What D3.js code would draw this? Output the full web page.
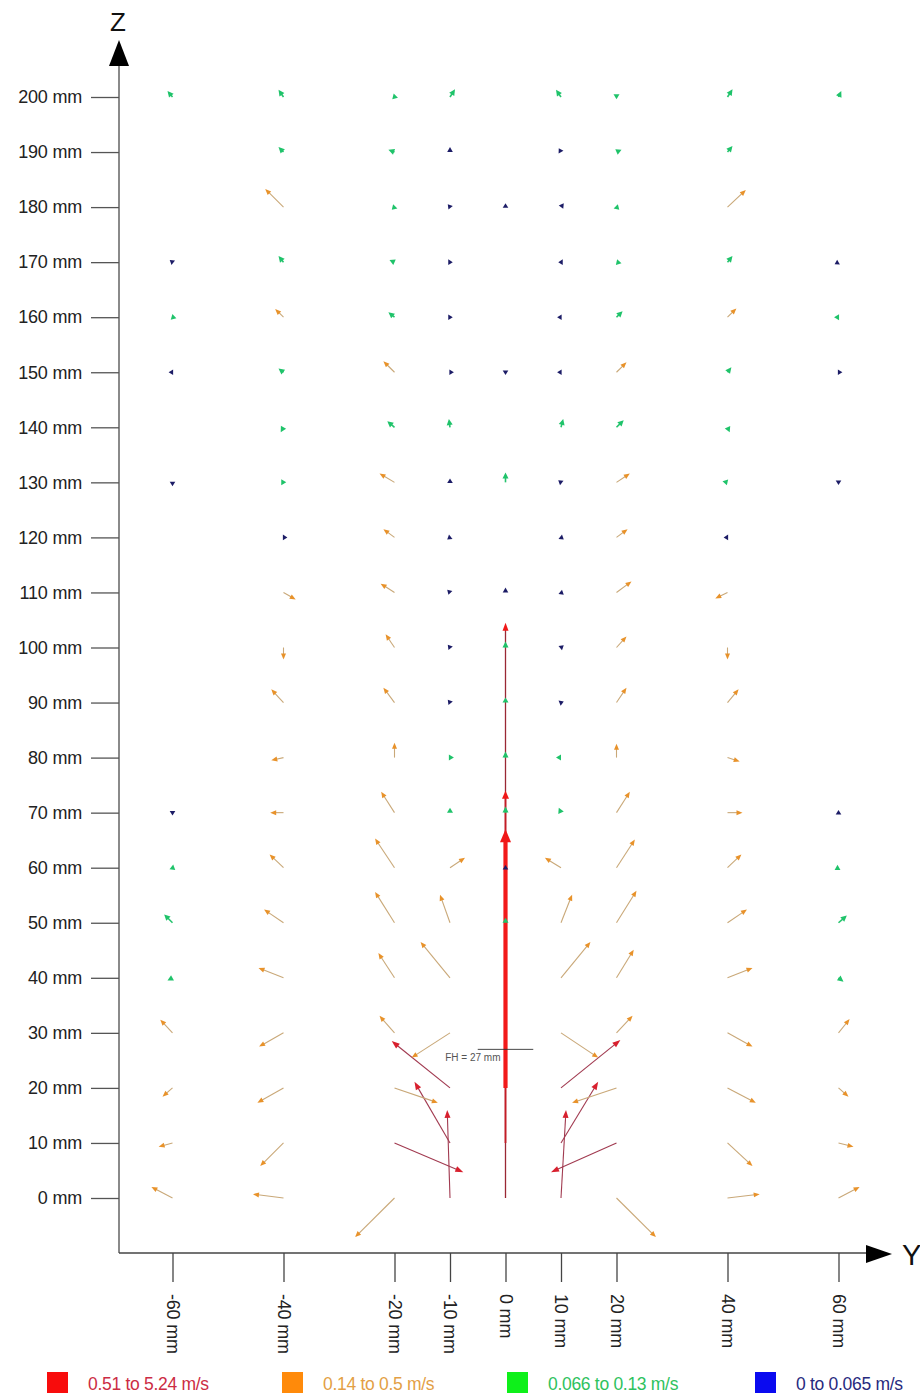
<!DOCTYPE html>
<html><head><meta charset="utf-8">
<script src="https://cdn.jsdelivr.net/npm/d3@7"></script>
<style>
body{margin:0;background:#fff}
svg{display:block}
text{font-family:"Liberation Sans",Arial,sans-serif}
</style>
</head><body>
<svg id="chart" width="920" height="1395"></svg>
<script>
// ---------- data (all in mm: [Y, Z, dY, dZ]) ----------
const yTicks = [-60, -40, -20, -10, 0, 10, 20, 40, 60];
const zTicks = d3.range(0, 201, 10);
const legendLabels = ["0.51 to 5.24 m/s", "0.14 to 0.5 m/s", "0.066 to 0.13 m/s", "0 to 0.065 m/s"];
const fhLabel = "FH = 27 mm";
const fhZ = 27;

const jetArrows = [
  [0, 0, 0, 104.5],
  [0, 10, 0, 64],
  [0, 20, 0, 47]
];
const redArrows = [
  [-10, 20, -10.5, 8.5], [-10, 10, -6.4, 11.1], [-10, 0, -0.5, 16], [-20, 10, 12.4, -5.3],
  [10, 20, 10.7, 8.7], [10, 10, 6.7, 11.1], [10, 0, 0.9, 16], [20, 10, -11.8, -5.3]
];
const orangeArrows = [
  [-60, 30, -2.2, 2.4], [-60, 20, -1.8, -1.6], [-60, 10, -2.5, -0.7], [-60, 0, -3.8, 2.0],
  [-40, 180, -3.3, 3.3], [-40, 160, -1.5, 1.5], [-40, 110, 2.2, -1.3], [-40, 100, 0, -2.2],
  [-40, 90, -2.2, 2.4], [-40, 80, -2.2, -0.5], [-40, 70, -2.4, 0], [-40, 60, -2.5, 2.4],
  [-40, 50, -3.5, 2.4], [-40, 40, -4.5, 1.8], [-40, 30, -4.4, -2.5], [-40, 20, -4.7, -2.7],
  [-40, 10, -4.2, -4.2], [-40, 0, -5.5, 0.7],
  [-20, 150, -2, 2], [-20, 130, -2.7, 1.6], [-20, 120, -2, 1.5], [-20, 110, -2.5, 1.6],
  [-20, 100, -1.6, 2.4], [-20, 90, -2, 2.7], [-20, 80, 0, 2.7], [-20, 70, -2.4, 3.8],
  [-20, 60, -3.5, 5.3], [-20, 50, -3.5, 5.6], [-20, 40, -2.9, 4.5], [-20, 30, -2.7, 3.1],
  [-20, 20, 7.8, -2.7], [-20, 0, -7.1, -7.1],
  [-10, 60, 2.7, 1.8], [-10, 50, -1.8, 5.1], [-10, 40, -5.3, 6.5], [-10, 30, -6.9, -4.5],
  [10, 60, -2.9, 1.8], [10, 50, 2.0, 5.1], [10, 40, 5.3, 6.5], [10, 30, 6.7, -4.5],
  [20, 150, 1.8, 1.8], [20, 130, 2.4, 1.6], [20, 120, 2, 1.5], [20, 110, 2.7, 2],
  [20, 100, 1.8, 2], [20, 90, 1.8, 2.7], [20, 80, 0, 2.5], [20, 70, 2.4, 3.8],
  [20, 60, 3.3, 5.1], [20, 50, 3.6, 5.8], [20, 40, 3.1, 5.1], [20, 30, 2.9, 3.1],
  [20, 20, -8, -2.7], [20, 0, 7.1, -7.1],
  [40, 180, 3.3, 3.1], [40, 160, 1.6, 1.6], [40, 110, -2.2, -1.1], [40, 100, 0, -2.2],
  [40, 90, 2, 2.4], [40, 80, 2.2, -0.7], [40, 70, 2.7, 0], [40, 60, 2.5, 2.4],
  [40, 50, 3.5, 2.4], [40, 40, 4.5, 1.8], [40, 30, 4.5, -2.5], [40, 20, 5.1, -2.7],
  [40, 10, 4.5, -4.2], [40, 0, 5.8, 0.7],
  [60, 30, 2, 2.5], [60, 20, 1.8, -1.6], [60, 10, 2.7, -0.7], [60, 0, 3.8, 2]
];
const greenArrows = [
  [-60, 200, -0.9, 1.1], [-40, 200, -0.9, 1.3], [-20, 200, -0.4, -0.4], [-10, 200, 0.9, 1.4],
  [10, 200, -0.9, 1.3], [20, 200, 0, -0.4], [40, 200, 0.9, 1.4], [60, 200, 0.5, 1.1],
  [-40, 190, -0.9, 0.9], [-20, 190, -1.1, 0.4], [20, 190, 0.9, 0.4], [40, 190, 0.9, 1.1],
  [-20, 180, -0.5, -0.5], [20, 180, 0.5, -0.5],
  [-40, 170, -0.9, 1.1], [-20, 170, -0.9, 0.4], [20, 170, 0.9, -0.2], [40, 170, 0.9, 1.1],
  [-60, 160, 0.7, -0.2], [-20, 160, -1.1, 0.9], [20, 160, 1.1, 1.1], [60, 160, -0.8, 0],
  [-40, 150, -0.9, 0.7], [40, 150, 0.7, 0.9],
  [-40, 140, -0.5, -0.9], [-20, 140, -1.3, 1.1], [-10, 140, -0.2, 1.5], [10, 140, 0.4, 1.5],
  [20, 140, 1.3, 1.3], [40, 140, 0.4, -0.9],
  [-40, 130, 0.5, 0], [0, 130, 0, 1.8], [40, 130, -0.9, 0.2],
  [0, 100, 0, 1.1], [0, 90, 0, 0.9], [0, 80, 0, 1.1],
  [-10, 80, 0.7, 0], [10, 80, -0.9, 0],
  [-10, 70, 0, 0.9], [0, 70, 0, 1.1], [10, 70, -0.4, 0.9],
  [-60, 60, 0.5, -0.4], [60, 60, -0.7, -0.4],
  [-60, 50, -1.5, 1.5], [0, 50, 0, 0.9], [60, 50, 1.5, 1.3],
  [-60, 40, -0.9, -0.5], [60, 40, 0.9, -0.7]
];
const blueArrows = [
  [-10, 190, 0, 0.9], [10, 190, -0.4, 0.7],
  [-10, 180, -0.4, 0.5], [0, 180, 0, 0.7], [10, 180, 0.5, 0.7],
  [-60, 170, -0.5, 0.4], [-10, 170, 0.5, 0], [10, 170, -0.5, 0], [60, 170, -0.7, -0.4],
  [-10, 160, 0.5, 0], [10, 160, -0.7, 0],
  [-60, 150, -0.7, 0], [-10, 150, 0.7, 0], [0, 150, 0, -0.5], [10, 150, -0.7, 0], [60, 150, 0.7, 0],
  [-60, 130, 0, -0.7], [-10, 130, 0, 0.7], [10, 130, -0.5, 0.4], [60, 130, 0, -0.5],
  [-40, 120, 0.7, 0], [-10, 120, -0.5, -0.4], [10, 120, 0.5, -0.4], [40, 120, -0.7, 0],
  [-10, 110, -0.5, 0.5], [0, 110, 0, 0.9], [10, 110, 0.5, -0.4],
  [-10, 100, -0.4, 0.5], [10, 100, 0.5, 0.4],
  [-10, 90, -0.4, 0.5], [10, 90, 0.5, 0.2],
  [-60, 70, 0, -0.5], [60, 70, 0, 0.5],
  [0, 60, 0, 0.5]
];

// ---------- drawing ----------
const svg = d3.select("#chart");
const x = d3.scaleLinear().domain([-60, 60]).range([172.5, 838.5]);
const y = d3.scaleLinear().domain([0, 200]).range([1198, 97]);
const axisX0 = 119, axisY0 = 1253;

// axes lines
svg.append("line").attr("x1", axisX0).attr("x2", axisX0).attr("y1", axisY0).attr("y2", 62)
  .attr("stroke", "#8a8a8a").attr("stroke-width", 2);
svg.append("path").attr("d", `M${axisX0},40 L${axisX0 - 10},66 L${axisX0 + 10},66 Z`).attr("fill", "#000");
svg.append("line").attr("x1", axisX0).attr("x2", 870).attr("y1", axisY0).attr("y2", axisY0)
  .attr("stroke", "#444").attr("stroke-width", 1.3);
svg.append("path").attr("d", `M892,${axisY0 + 1} L866,${axisY0 - 8} L866,${axisY0 + 10} Z`).attr("fill", "#000");
svg.append("text").attr("x", 118).attr("y", 31).attr("text-anchor", "middle")
  .attr("font-size", 26).attr("fill", "#111").text("Z");
svg.append("text").attr("x", 902).attr("y", 1265)
  .attr("font-size", 29).attr("fill", "#111").text("Y");

// left axis ticks
const gL = svg.append("g").attr("transform", `translate(${axisX0},0)`)
  .call(d3.axisLeft(y).tickValues(zTicks).tickFormat(d => d + " mm").tickSize(28).tickPadding(9));
gL.select(".domain").remove();
gL.selectAll(".tick line").attr("stroke", "#555").attr("stroke-width", 1.3);
gL.selectAll(".tick text").attr("font-size", 18).attr("fill", "#222")
  .attr("font-family", "'Liberation Sans',Arial,sans-serif").attr("letter-spacing", -0.2);

// bottom axis ticks
const gB = svg.append("g").attr("transform", `translate(0,${axisY0})`)
  .call(d3.axisBottom(x).tickValues(yTicks).tickFormat(d => d + " mm").tickSize(29));
gB.select(".domain").remove();
gB.selectAll(".tick line").attr("stroke", "#444").attr("stroke-width", 1.3);
gB.selectAll(".tick text")
  .attr("transform", "rotate(90)")
  .attr("x", 41).attr("y", 0).attr("dy", "0.35em")
  .attr("text-anchor", "start")
  .attr("font-size", 18).attr("fill", "#222")
  .attr("font-family", "'Liberation Sans',Arial,sans-serif").attr("letter-spacing", -0.2);

// arrow helper
function drawArrows(data, st) {
  const g = svg.append("g");
  data.forEach((d, i) => {
    const x0 = x(d[0]), y0 = y(d[1]);
    const x1 = x(d[0] + d[2]), y1 = y(d[1] + d[3]);
    const dx = x1 - x0, dy = y1 - y0;
    const len = Math.hypot(dx, dy) || 1;
    const ux = dx / len, uy = dy / len;
    const pick = v => Array.isArray(v) ? v[i] : v;
    const sw = pick(st.w);
    const hl = Math.max(Math.min(pick(st.hl), len), st.minHl || 3.5);
    const hw = pick(st.hw);
    const bx = x1 - ux * hl, by = y1 - uy * hl;
    if (len > hl) {
      g.append("line").attr("x1", x0).attr("y1", y0).attr("x2", bx + ux).attr("y2", by + uy)
        .attr("stroke", pick(st.line)).attr("stroke-width", sw);
    }
    g.append("path")
      .attr("d", `M${x1},${y1} L${bx - uy * hw},${by + ux * hw} L${bx + uy * hw},${by - ux * hw} Z`)
      .attr("fill", pick(st.head));
  });
}

drawArrows(jetArrows, { line: ["#9a2834", "#c41c26", "#f21a1a"], head: "#f01818",
  w: [1.3, 1.8, 4.2], hl: [8, 8, 13], hw: [3, 3.5, 5.5] });
drawArrows(redArrows, { line: "#a13a50", head: "#d8202e", w: 1.1, hl: 8, hw: 3 });
drawArrows(orangeArrows, { line: "#c9a878", head: "#e8922a", w: 1.1, hl: 6, hw: 2.5, minHl: 4.5 });
drawArrows(greenArrows, { line: "#26c46e", head: "#1fc36a", w: 1.6, hl: 6, hw: 3, minHl: 5 });
drawArrows(blueArrows, { line: "#1c1c66", head: "#1c1c66", w: 1.5, hl: 5.5, hw: 2.8, minHl: 4.5 });

// FH annotation
svg.append("line").attr("x1", x(-5)).attr("x2", x(5)).attr("y1", y(fhZ)).attr("y2", y(fhZ))
  .attr("stroke", "#333").attr("stroke-width", 0.9);
svg.append("text").attr("x", x(0) - 5).attr("y", y(fhZ) + 12).attr("text-anchor", "end")
  .attr("font-size", 10).attr("fill", "#555").text(fhLabel);

// legend
const legSquare = ["#f80c0c", "#ff8a0a", "#0ef01a", "#0a0af0"];
const legText = ["#cc2c44", "#e39f45", "#2ec25e", "#272a7e"];
const legX = [47, 282, 507, 755];
legendLabels.forEach((t, i) => {
  svg.append("rect").attr("x", legX[i]).attr("y", 1372).attr("width", 21).attr("height", 21).attr("fill", legSquare[i]);
  svg.append("text").attr("x", legX[i] + 41).attr("y", 1390).attr("font-size", 17.5)
    .attr("fill", legText[i]).attr("letter-spacing", -0.3).text(t);
});
</script>
</body></html>
